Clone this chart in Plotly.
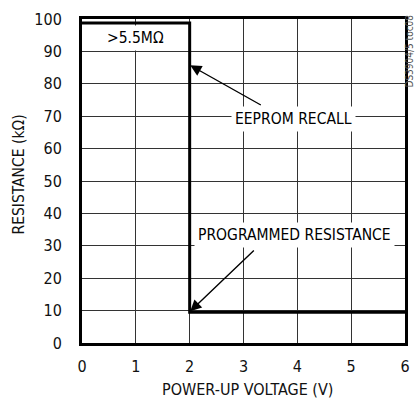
import plotly.graph_objects as go

# Data
voltage = [0, 2, 2, 6]
resistance = [98.8, 98.8, 9.5, 9.5]
x_ticks = [0, 1, 2, 3, 4, 5, 6]
y_ticks = [0, 10, 20, 30, 40, 50, 60, 70, 80, 90, 100]

FONT = "Liberation Sans Narrow, Arial Narrow, DejaVu Sans Condensed, sans-serif"
W, H = 420, 402
L, R, T, B = 82, 10, 15, 59
pw, ph = W - L - R, H - T - B

def px_x(p):
    return (p - L) / pw

def px_y(p):
    return (H - B - p) / ph

fig = go.Figure()
fig.add_trace(go.Scatter(x=voltage, y=resistance, mode="lines",
                         line=dict(color="black", width=3), hoverinfo="skip"))

ann = []
# text labels with white boxes
for txt, x, y in [(">5.5MΩ", 1.0, 94.0), ("EEPROM RECALL", 3.93, 69.1),
                  ("PROGRAMMED RESISTANCE", 3.94, 33.3)]:
    ann.append(dict(text=txt, x=x, y=y, xref="x", yref="y", showarrow=False,
                    xanchor="center", yanchor="middle",
                    bgcolor="white", borderpad=3,
                    font=dict(family=FONT, size=15.5, color="black")))
# arrows
for tip, tail in [((2.01, 85.7), (3.35, 73.2)), ((2.01, 9.8), (3.22, 29.0))]:
    ann.append(dict(text="", x=tip[0], y=tip[1], ax=tail[0], ay=tail[1],
                    xref="x", yref="y", axref="x", ayref="y", showarrow=True,
                    arrowhead=2, arrowsize=1.6, arrowwidth=1.4, arrowcolor="black",
                    standoff=0))
# axis titles
ann.append(dict(text="RESISTANCE (kΩ)", x=px_x(18.5), y=px_y(172), xref="paper", yref="paper",
                showarrow=False, textangle=-90, xanchor="center", yanchor="middle",
                font=dict(family=FONT, size=15.5, color="#111")))
ann.append(dict(text="POWER-UP VOLTAGE (V)", x=px_x(250), y=px_y(390), xref="paper", yref="paper",
                showarrow=False, xanchor="center", yanchor="middle",
                font=dict(family=FONT, size=16, color="#111")))
ann.append(dict(text="DS3904/5 toc08", x=px_x(415), y=px_y(47), xref="paper", yref="paper",
                showarrow=False, textangle=-90, xanchor="center", yanchor="middle",
                font=dict(family=FONT, size=10, color="#555")))

fig.update_layout(
    width=W, height=H,
    margin=dict(l=L, r=R, t=T, b=B),
    paper_bgcolor="white", plot_bgcolor="white",
    showlegend=False,
    annotations=ann,
    font=dict(family=FONT, size=16, color="#111"),
)
fig.update_xaxes(range=[0, 6], tickvals=x_ticks, ticktext=[str(v) for v in x_ticks],
                 showgrid=True, gridcolor="#333", gridwidth=1,
                 showline=True, linecolor="black", linewidth=3, mirror=True,
                 zeroline=False, ticks="", ticklabelstandoff=7,
                 tickfont=dict(family=FONT, size=16, color="#111"))
fig.update_yaxes(range=[0, 100], tickvals=y_ticks, ticktext=[str(v) for v in y_ticks],
                 showgrid=True, gridcolor="#333", gridwidth=1,
                 showline=True, linecolor="black", linewidth=3, mirror=True,
                 zeroline=False, ticks="", ticklabelstandoff=14,
                 tickfont=dict(family=FONT, size=16, color="#111"))

fig.write_html("out.html", config={"displayModeBar": False},
               post_script="document.body.style.margin='0';document.body.style.overflow='hidden';")
